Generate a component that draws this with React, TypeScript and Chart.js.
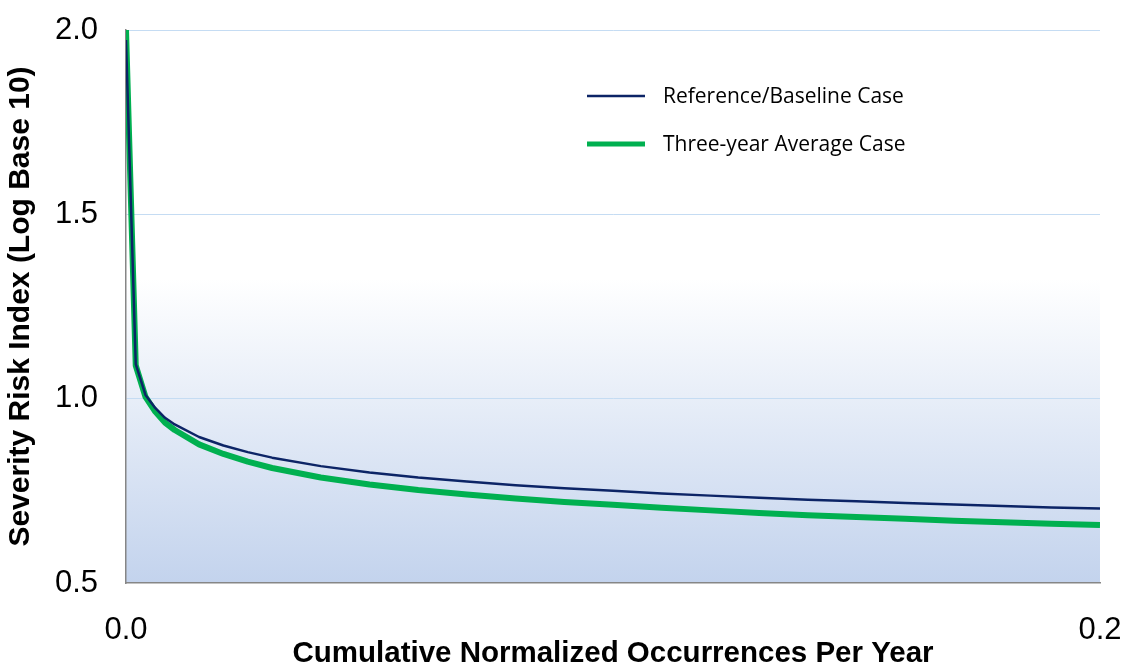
import React, { useEffect, useRef } from "react";
import { Chart, registerables } from "chart.js";

Chart.register(...registerables);

const xValues = [0, 0.002, 0.004, 0.006, 0.008, 0.01, 0.015, 0.02, 0.025, 0.03, 0.04, 0.05, 0.06, 0.07, 0.08, 0.09, 0.1, 0.11, 0.12, 0.13, 0.14, 0.15, 0.16, 0.17, 0.18, 0.19, 0.2];
const baselineCase = [1.973, 1.094, 1.01, 0.975, 0.948, 0.93, 0.896, 0.873, 0.855, 0.84, 0.817, 0.8, 0.786, 0.775, 0.765, 0.757, 0.75, 0.743, 0.737, 0.731, 0.726, 0.722, 0.717, 0.713, 0.709, 0.705, 0.702];
const threeYearCase = [2.0, 1.09, 1.005, 0.965, 0.935, 0.915, 0.876, 0.85, 0.829, 0.812, 0.786, 0.767, 0.752, 0.74, 0.729, 0.72, 0.712, 0.704, 0.697, 0.69, 0.684, 0.679, 0.674, 0.669, 0.665, 0.661, 0.657];
const seriesLabels = ["Reference/Baseline Case", "Three-year Average Case"];
const xTitle = "Cumulative Normalized Occurrences Per Year";
const yTitle = "Severity Risk Index (Log Base 10)";

const bgPlugin = {
  id: "plotBg",
  beforeDraw(chart: any) {
    const { ctx, chartArea } = chart;
    if (!chartArea) return;
    const { left, top, right, bottom } = chartArea;
    const g = ctx.createLinearGradient(0, top, 0, bottom);
    g.addColorStop(0, "#ffffff");
    g.addColorStop(0.45, "#ffffff");
    g.addColorStop(1, "#c3d3ed");
    ctx.save();
    ctx.fillStyle = g;
    ctx.fillRect(left, top, right - left, bottom - top);
    ctx.restore();
  },
};

const legendPlugin = {
  id: "insideLegend",
  afterDatasetsDraw(chart: any) {
    const { ctx, chartArea } = chart;
    const x0 = chartArea.left + 461;
    const x1 = chartArea.left + 519;
    const tx = chartArea.left + 537;
    const rows = [
      { ds: chart.data.datasets[0], y: chartArea.top + 66, w: 2.5 },
      { ds: chart.data.datasets[1], y: chartArea.top + 114, w: 5 },
    ];
    ctx.save();
    rows.forEach((r) => {
      ctx.strokeStyle = r.ds.borderColor;
      ctx.lineWidth = r.w;
      ctx.beginPath();
      ctx.moveTo(x0, r.y);
      ctx.lineTo(x1, r.y);
      ctx.stroke();
      ctx.fillStyle = "#000000";
      ctx.font = "21px 'Open Sans'";
      ctx.textAlign = "left";
      ctx.textBaseline = "middle";
      ctx.fillText(r.ds.label, tx, r.y + 1);
    });
    ctx.restore();
  },
};

export default function App() {
  const ref = useRef<HTMLCanvasElement | null>(null);
  useEffect(() => {
    if (!ref.current) return;
    const chart = new Chart(ref.current, {
      type: "line",
      data: {
        datasets: [
          {
            label: seriesLabels[0],
            data: xValues.map((x, i) => ({ x, y: baselineCase[i] })),
            borderColor: "#0c2466",
            borderWidth: 2.5,
            pointRadius: 0,
            tension: 0,
            borderJoinStyle: "round",
            fill: false,
            order: 1,
          },
          {
            label: seriesLabels[1],
            data: xValues.map((x, i) => ({ x, y: threeYearCase[i] })),
            borderColor: "#00b050",
            borderWidth: 6,
            pointRadius: 0,
            tension: 0,
            borderJoinStyle: "round",
            fill: false,
            order: 2,
          },
        ],
      },
      options: {
        animation: false,
        responsive: true,
        maintainAspectRatio: false,
        layout: { padding: { top: 30, right: 24, left: 0, bottom: 0 } },
        plugins: { legend: { display: false }, tooltip: { enabled: false } },
        scales: {
          x: {
            type: "linear",
            min: 0,
            max: 0.2,
            afterFit: (s: any) => { s.height = 84; s.paddingLeft = 0; s.paddingRight = 0; },
            grid: { display: false, drawTicks: false },
            border: { display: true, color: "#868686", width: 1.5 },
            ticks: {
              stepSize: 0.2,
              padding: 29,
              color: "#000",
              font: { family: "'Liberation Sans', Arial", size: 31 },
              callback: (v: any) => Number(v).toFixed(1),
            },
            title: {
              display: true,
              text: xTitle,
              color: "#000",
              font: { family: "'Liberation Sans', Arial", size: 29.5, weight: "bold", lineHeight: 1 },
              padding: { top: 0, bottom: -2 },
            },
          },
          y: {
            type: "linear",
            min: 0.5,
            max: 2.0,
            afterFit: (s: any) => { s.width = 126; s.paddingTop = 0; s.paddingBottom = 0; },
            grid: {
              drawTicks: false,
              color: (c: any) => (c.tick && c.tick.value === 0.5 ? "rgba(0,0,0,0)" : "#c5dcf3"),
              lineWidth: 1,
            },
            border: { display: true, color: "#868686", width: 1.5 },
            ticks: {
              stepSize: 0.5,
              padding: 28,
              color: "#000",
              font: { family: "'Liberation Sans', Arial", size: 31 },
              callback: (v: any) => Number(v).toFixed(1),
            },
            title: {
              display: true,
              text: yTitle,
              color: "#000",
              font: { family: "'Liberation Sans', Arial", size: 30, weight: "bold", lineHeight: 1 },
              padding: { top: 6, bottom: 0 },
            },
          },
        },
      },
      plugins: [bgPlugin, legendPlugin],
    } as any);
    return () => chart.destroy();
  }, []);
  return (
    <div style={{ position: "absolute", left: 0, top: 0, width: 1124, height: 667 }}>
      <canvas ref={ref} />
    </div>
  );
}
